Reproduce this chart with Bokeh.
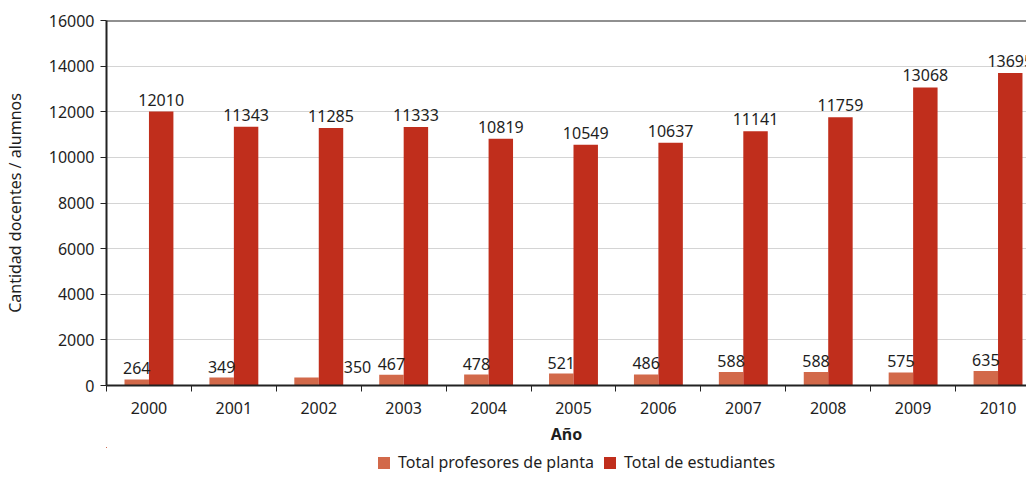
from bokeh.plotting import figure
from bokeh.layouts import column
from bokeh.models import (ColumnDataSource, Range1d, FixedTicker, Span, Legend, LegendItem)
from bokeh.core.properties import value
from bokeh.embed import file_html
from bokeh.resources import INLINE

years = ["2000", "2001", "2002", "2003", "2004", "2005", "2006", "2007", "2008", "2009", "2010"]
profesores = [264, 349, 350, 467, 478, 521, 486, 588, 588, 575, 635]
estudiantes = [12010, 11343, 11285, 11333, 10819, 10549, 10637, 11141, 11759, 13068, 13695]

FONT = "Noto Sans"
FS = "16px"
C_PROF = "#d2694a"
C_EST = "#c02e1c"
TXT = "#1e1e1e"
BW = 0.288

idx = list(range(len(years)))
# label of 2002 professors sits to the right of the student bar in the original
prof_label_shift = {"2002": 0.6}

src = ColumnDataSource(dict(
    xp=[i - BW / 2 for i in idx],
    xe=[i + BW / 2 for i in idx],
    xpl=[i - BW / 2 + prof_label_shift.get(y, 0) for i, y in zip(idx, years)],
    prof=profesores,
    est=estudiantes,
    prof_t=[str(v) for v in profesores],
    est_t=[str(v) for v in estudiantes],
))

LEFT = 105
frame_w = 1026 - LEFT
band = 85.0
p = figure(width=1026, height=447, output_backend="svg", toolbar_location=None,
           x_range=Range1d(-0.5, -0.5 + frame_w / band), y_range=Range1d(0, 16000),
           min_border_left=LEFT, min_border_right=0, min_border_top=20, min_border_bottom=59)
p.outline_line_color = None
p.background_fill_color = "white"
p.border_fill_color = "white"

r_prof = p.vbar(x="xp", top="prof", width=BW, source=src, fill_color=C_PROF, line_color=None)
r_est = p.vbar(x="xe", top="est", width=BW, source=src, fill_color=C_EST, line_color=None)

p.text(x="xpl", y="prof", text="prof_t", source=src, text_align="center", text_baseline="bottom",
       y_offset=-5, text_font=value(FONT), text_font_size=FS, text_color=TXT)
p.text(x="xe", y="est", text="est_t", source=src, text_align="center", text_baseline="bottom",
       y_offset=-6, text_font=value(FONT), text_font_size=FS, text_color=TXT)

p.add_layout(Span(location=16000, dimension="width", line_color="#222222", line_width=2))

# grid
p.xgrid.grid_line_color = None
p.ygrid.grid_line_color = "#d4d4d4"
p.ygrid.grid_line_width = 1
p.yaxis.ticker = FixedTicker(ticks=list(range(0, 16001, 2000)))

# x axis
xa = p.xaxis[0]
xa.ticker = FixedTicker(ticks=idx, minor_ticks=[i + 0.5 for i in range(-1, len(years))])
xa.major_label_overrides = {i: y for i, y in zip(idx, years)}
xa.major_tick_out = 0
xa.major_tick_in = 0
xa.minor_tick_out = 6
xa.minor_tick_in = 0
xa.minor_tick_line_color = "#222222"
xa.minor_tick_line_width = 1
xa.axis_line_color = "#222222"
xa.axis_line_width = 2
xa.major_label_text_font = FONT
xa.major_label_text_font_size = FS
xa.major_label_text_color = TXT
xa.major_label_standoff = 10
xa.axis_label = "Año"
xa.axis_label_text_font = FONT
xa.axis_label_text_font_size = FS
xa.axis_label_text_font_style = "bold"
xa.axis_label_text_color = TXT
xa.axis_label_standoff = 6

# y axis
ya = p.yaxis[0]
ya.axis_line_color = "#222222"
ya.axis_line_width = 2
ya.major_tick_out = 6
ya.major_tick_in = 0
ya.major_tick_line_color = "#222222"
ya.minor_tick_line_color = None
ya.major_label_text_font = FONT
ya.major_label_text_font_size = FS
ya.major_label_text_color = TXT
ya.major_label_standoff = 6
ya.axis_label = "Cantidad docentes / alumnos"
ya.axis_label_text_font = FONT
ya.axis_label_text_font_size = FS
ya.axis_label_text_font_style = "normal"
ya.axis_label_text_color = TXT
ya.axis_label_standoff = 20

# legend strip under the chart (bars kept out of view; only the legend shows)
p2 = figure(width=1026, height=30, output_backend="svg", toolbar_location=None,
            x_range=Range1d(100, 101), y_range=Range1d(-30000, -29999),
            min_border_left=LEFT, min_border_right=0, min_border_top=0, min_border_bottom=0)
p2.axis.visible = False
p2.grid.visible = False
p2.outline_line_color = None
l_prof = p2.vbar(x="xp", top="prof", width=BW, source=src, fill_color=C_PROF, line_color=None)
l_est = p2.vbar(x="xe", top="est", width=BW, source=src, fill_color=C_EST, line_color=None)
legend = Legend(items=[LegendItem(label="Total profesores de planta", renderers=[l_prof]),
                       LegendItem(label="Total de estudiantes", renderers=[l_est])],
                orientation="horizontal", location=(375 - LEFT, 4),
                label_text_font=FONT, label_text_font_size=FS, label_text_color=TXT,
                glyph_width=15, glyph_height=15, spacing=8, label_standoff=7,
                padding=0, margin=0, border_line_color=None, background_fill_alpha=0)
p2.add_layout(legend)

open("out.html", "w").write(file_html(column(p, p2, spacing=0), INLINE))
